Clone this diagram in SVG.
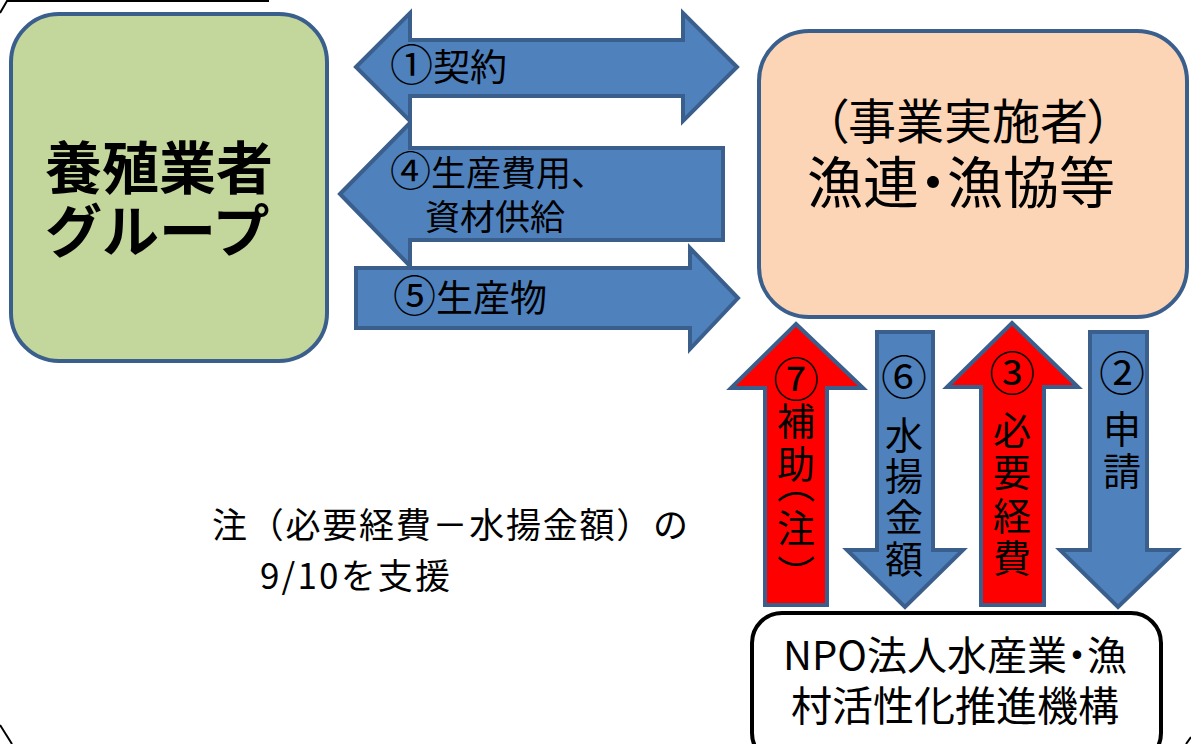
<svg xmlns="http://www.w3.org/2000/svg" width="1191" height="744" viewBox="0 0 1191 744">
<style>
.t{font-family:"Noto Sans CJK JP","Noto Sans CJK SC",sans-serif;fill:#000}
.v{font-family:"Noto Sans CJK JP","Noto Sans CJK SC",sans-serif;fill:#000;font-size:38px;text-anchor:middle;dominant-baseline:central}
.n{font-size:46px}
.blue{fill:#4F81BD;stroke:#3B5F8D;stroke-width:4;stroke-linejoin:miter}
.red{fill:#FF0000;stroke:#3B5F8D;stroke-width:4;stroke-linejoin:miter}
.frame{fill:none;stroke:#000;stroke-width:2}
.p{font-feature-settings:"palt"}
</style>
<rect width="1191" height="744" fill="#fff"/>
<g id="frame">
<path class="frame" d="M0,13 L7,1 L269,1"/>
<path class="frame" d="M0,725 L12,744"/>
<path class="frame" d="M1191,737 L1186,744"/>
</g>
<g id="node-group">
<rect x="11" y="14" width="316" height="347" rx="48" fill="#C3D69B" stroke="#3B5F8D" stroke-width="4"/>
<text class="t" x="45" y="189" font-size="57" font-weight="bold">養殖業者</text>
<text class="t" x="45" y="252" font-size="57" font-weight="bold">グループ</text>
</g>
<g id="node-operator">
<rect x="759" y="31" width="428" height="286" rx="50" fill="#FBD5B5" stroke="#3B5F8D" stroke-width="4"/>
<text class="t p" x="968" y="139" font-size="48" text-anchor="middle">（事業実施者）</text>
<text class="t p" x="961" y="203" font-size="56" text-anchor="middle">漁連・漁協等</text>
</g>
<g id="connectors">
<g id="c1">
<path class="blue" d="M356,67 L410,13 L410,40 L683,40 L683,13 L737,67 L683,121 L683,96 L410,96 L410,121 Z"/>
<text class="t" x="390" y="81" font-size="37"><tspan font-size="43">①</tspan>契約</text>
</g>
<g id="c4">
<path class="blue" d="M340,194 L410,123 L410,148 L723,148 L723,240 L410,240 L410,266 Z"/>
<text class="t" x="390" y="186" font-size="35"><tspan font-size="41">④</tspan>生産費用、</text>
<text class="t" x="425" y="230" font-size="35">資材供給</text>
</g>
<g id="c5">
<path class="blue" d="M356,268 L690,268 L690,248 L738,298 L690,349 L690,328 L356,328 Z"/>
<text class="t" x="393" y="312" font-size="37"><tspan font-size="43">⑤</tspan>生産物</text>
</g>
<g id="c7">
<path class="red" d="M796,324 L863,388 L827,388 L827,605 L765,605 L765,388 L731,388 Z"/>
<text class="v n" x="796" y="376">⑦</text>
<text class="v" x="796" y="418">補</text>
<text class="v" x="796" y="461">助</text>
<text class="v" x="796" y="481">︵</text>
<text class="v" x="796" y="525">注</text>
<text class="v" x="796" y="571">︶</text>
</g>
<g id="c6">
<path class="blue" d="M877,332 L933,332 L933,550 L963,550 L905,607 L847,550 L877,550 Z"/>
<text class="v n" x="904" y="374">⑥</text>
<text class="v" x="904" y="432">水</text>
<text class="v" x="904" y="473">揚</text>
<text class="v" x="904" y="514">金</text>
<text class="v" x="904" y="556">額</text>
</g>
<g id="c3">
<path class="red" d="M1012,323 L1078,387 L1044,387 L1044,605 L981,605 L981,387 L947,387 Z"/>
<text class="v n" x="1012" y="370">③</text>
<text class="v" x="1012" y="427">必</text>
<text class="v" x="1012" y="469">要</text>
<text class="v" x="1012" y="513">経</text>
<text class="v" x="1012" y="555">費</text>
</g>
<g id="c2">
<path class="blue" d="M1090,332 L1147,332 L1147,550 L1177,550 L1118,607 L1060,550 L1090,550 Z"/>
<text class="v n" x="1122" y="370">②</text>
<text class="v" x="1122" y="426">申</text>
<text class="v" x="1122" y="468">請</text>
</g>
</g>
<g id="node-npo">
<rect x="752" y="613" width="409" height="150" rx="30" fill="#fff" stroke="#000" stroke-width="4"/>
<text class="t p" x="955" y="670" font-size="40" text-anchor="middle">NPO法人水産業・漁</text>
<text class="t p" x="955" y="721" font-size="41" text-anchor="middle">村活性化推進機構</text>
</g>
<g id="note">
<text class="t" x="212" y="538" font-size="35" textLength="476" lengthAdjust="spacing">注（必要経費－水揚金額）の</text>
<text class="t" x="260" y="589" font-size="35" textLength="190" lengthAdjust="spacing">9/10を支援</text>
</g>
</svg>
